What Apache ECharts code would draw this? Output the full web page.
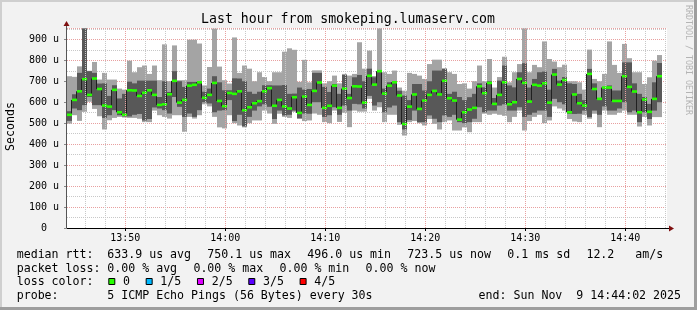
<!DOCTYPE html>
<html><head><meta charset="utf-8">
<script src="https://cdn.jsdelivr.net/npm/echarts@6/dist/echarts.min.js"></script>
<style>html,body{margin:0;padding:0;background:#f2f2f2}#c{width:697px;height:310px}</style>
</head><body><div id="c"></div>
<script>
// ---- time dimension ----
const startTime = '13:44:10';
const stepSeconds = 30;
const spanSeconds = 3600;
const majorTickLabels = ['13:50', '14:00', '14:10', '14:20', '14:30', '14:40'];
const yMax = 954;

// ---- 5 sorted pings per 30 s step (microseconds) ----
const pingMin = [498,538,511,554,602,568,533,470,514,525,530,527,525,525,521,505,505,560,538,530,
  522,538,538,459,530,522,538,590,580,530,480,475,538,500,489,480,500,513,513,560,
  546,497,545,530,525,554,520,510,513,546,540,505,500,560,506,550,481,560,555,555,
  616,560,576,505,540,540,492,441,505,510,500,489,520,497,470,505,513,465,465,480,
  457,505,505,545,540,545,540,535,505,530,560,465,510,530,540,500,513,580,570,560,
  520,508,505,540,521,545,481,560,540,540,550,560,540,540,484,530,489,529,529];
const pingLow = [511,570,562,586,625,586,586,525,538,562,538,532,532,540,544,513,520,575,570,562,
  546,625,578,530,546,530,562,600,594,552,560,562,610,510,540,485,530,560,580,590,
  578,520,560,537,540,560,524,546,545,600,600,530,538,576,540,584,560,592,590,570,
  630,584,600,552,575,584,505,470,515,560,505,505,537,521,505,537,530,540,505,500,
  505,521,576,552,560,560,584,590,560,560,576,530,540,550,560,560,530,616,600,590,
  545,544,545,560,529,560,540,580,560,560,570,600,552,560,505,552,520,560,600];
const pingMedian = [540,611,652,710,635,713,663,584,579,659,552,540,657,656,630,645,657,635,587,590,
  638,702,598,611,679,683,695,621,635,692,606,581,644,640,652,562,576,595,605,652,
  667,583,611,580,570,624,549,627,587,654,694,573,583,679,573,665,620,676,675,598,
  726,684,748,641,679,695,632,496,579,637,568,608,635,654,637,702,619,608,517,552,
  565,573,676,643,692,592,635,695,590,600,711,692,603,683,679,690,598,732,684,706,
  552,637,595,584,735,663,616,670,670,606,606,724,673,651,552,613,554,616,724];
const pingHigh = [557,638,740,951,748,740,689,690,630,681,618,640,698,690,703,703,703,703,625,700,
  649,748,700,673,697,697,700,650,665,724,695,657,657,714,713,700,650,640,650,681,
  681,680,680,682,640,641,670,660,663,740,740,673,649,687,640,730,640,719,730,700,
  760,719,752,665,695,700,655,632,610,687,687,656,700,751,751,759,640,650,625,610,
  624,640,690,671,700,620,703,775,680,671,743,786,670,711,743,746,660,759,703,720,
  690,687,640,610,759,690,620,672,680,656,656,790,790,690,640,625,592,695,787];
const pingMax = [724,721,771,954,750,792,708,740,708,708,665,660,798,743,767,775,735,775,705,876,
  700,871,705,705,898,898,880,680,768,951,770,705,689,909,740,775,760,700,743,720,
  700,743,743,841,857,850,697,802,695,752,752,690,700,727,690,735,727,735,886,760,
  846,725,952,743,735,751,670,655,740,735,727,711,782,803,803,762,743,735,687,690,
  665,700,775,700,806,670,720,817,695,743,782,952,743,778,767,890,806,794,767,779,
  700,700,695,660,851,711,700,735,890,778,740,878,810,743,743,687,719,798,825];

// ---- legend texts ----
const titleText = 'Last hour from smokeping.lumaserv.com';
const yAxisTitle = 'Seconds';
const sideText = 'RRDTOOL / TOBI OETIKER';
const rttLine = [['median rtt:', 16.7], ['633.9 us avg', 107.3], ['750.1 us max', 207.3], ['496.0 us min', 307.3], ['723.5 us now', 407.3], ['0.1 ms sd', 507.3], ['12.2   am/s', 586.4]];
const lossLine = [['packet loss:', 16.7], ['0.00 % avg', 107.3], ['0.00 % max', 193.4], ['0.00 % min', 279.5], ['0.00 % now', 365.6]];
const lossLabels = ['0', '1/5', '2/5', '3/5', '4/5'];
const lossColors = ['#26ff00', '#00b8ff', '#dd00ff', '#5a00ff', '#ff0000'];
const probeText = '5 ICMP Echo Pings (56 Bytes) every 30s';
const endText = 'end: Sun Nov  9 14:44:02 2025';

// ---- derived ----
function toSec(s) { const p = s.split(':').map(Number); return p[0] * 3600 + p[1] * 60 + (p[2] || 0); }
function fmt(v) { const h = Math.floor(v / 3600), m = Math.floor((v % 3600) / 60); return String(h).padStart(2, '0') + ':' + String(m).padStart(2, '0'); }
const t0 = toSec(startTime);
const tEnd = t0 + spanSeconds;
const majorTimes = majorTickLabels.map(toSec);
const minorTimes = [];
for (let t = Math.ceil(t0 / 120) * 120; t <= tEnd; t += 120) if (!majorTimes.includes(t)) minorTimes.push(t);
const stepStarts = pingMedian.map((_, i) => t0 + i * stepSeconds);
const smokeData = pingMedian.map((m, i) => [stepStarts[i], stepStarts[i] + stepSeconds, pingMin[i], pingLow[i], pingHigh[i], pingMax[i]]);
const medianData = pingMedian.map((m, i) => [stepStarts[i], stepStarts[i] + stepSeconds, m, i + 1 < pingMedian.length ? pingMedian[i + 1] : m]);

const MONO = "'DejaVu Sans Mono', monospace";
const GL = 67, GT = 28, GR = 667, GB = 228;
const CW = 6.97;

function renderSmoke(params, api) {
  const x0 = api.coord([api.value(0), 0])[0];
  const x1 = api.coord([api.value(1), 0])[0];
  const y = v => api.coord([api.value(0), v])[1];
  const a = y(api.value(2)), b = y(api.value(3)), c = y(api.value(4)), d = y(api.value(5));
  return { type: 'group', children: [
    { type: 'rect', shape: { x: x0, y: d, width: x1 - x0, height: a - d }, style: { fill: '#a4a4a4' } },
    { type: 'rect', shape: { x: x0, y: c, width: x1 - x0, height: b - c }, style: { fill: '#585858' } }
  ] };
}
function renderMedian(params, api) {
  const x0 = api.coord([api.value(0), 0])[0];
  const x1 = api.coord([api.value(1), 0])[0];
  const ym = api.coord([api.value(0), api.value(2)])[1];
  const yn = api.coord([api.value(0), api.value(3)])[1];
  const xl = Math.round(x1) - 0.5;
  return { type: 'group', children: [
    { type: 'line', shape: { x1: xl, y1: ym, x2: xl, y2: yn }, style: { stroke: '#202020', lineWidth: 1 } },
    { type: 'rect', shape: { x: x0, y: ym - 1.3, width: x1 - x0, height: 2.6 }, style: { fill: '#26ff00' } }
  ] };
}

const gfx = [];
function txt(x, y, s, opt) {
  gfx.push(Object.assign({ type: 'text', x: x, y: y, z: 100, silent: true,
    style: Object.assign({ text: s, fill: '#000', font: '11.6px ' + MONO, textAlign: 'left', textVerticalAlign: 'middle' }, opt || {}) }));
}
// frame
gfx.push({ type: 'rect', z: 100, silent: true, shape: { x: 0, y: 0, width: 697, height: 2 }, style: { fill: '#cfcfcf' } });
gfx.push({ type: 'rect', z: 100, silent: true, shape: { x: 0, y: 0, width: 2, height: 310 }, style: { fill: '#cfcfcf' } });
gfx.push({ type: 'rect', z: 100, silent: true, shape: { x: 0, y: 307, width: 697, height: 3 }, style: { fill: '#9e9e9e' } });
gfx.push({ type: 'rect', z: 100, silent: true, shape: { x: 694, y: 0, width: 3, height: 310 }, style: { fill: '#9e9e9e' } });
// axes lines + arrows
gfx.push({ type: 'line', z: 100, silent: true, shape: { x1: GL - 0.5, y1: GB, x2: GL - 0.5, y2: GT - 4 }, style: { stroke: '#555', lineWidth: 1 } });
gfx.push({ type: 'polygon', z: 101, silent: true, shape: { points: [[GL - 3.5, GT - 2], [GL + 2.5, GT - 2], [GL - 0.5, GT - 7]] }, style: { fill: '#7f1010' } });
gfx.push({ type: 'line', z: 100, silent: true, shape: { x1: GR, y1: GB + 0.5, x2: GR + 3, y2: GB + 0.5 }, style: { stroke: '#000', lineWidth: 1 } });
gfx.push({ type: 'polygon', z: 101, silent: true, shape: { points: [[GR + 2, GB - 2.5], [GR + 2, GB + 3.5], [GR + 7, GB + 0.5]] }, style: { fill: '#7f1010' } });
// title / side texts
txt(348, 19.5, titleText, { font: '13.2px ' + MONO, textAlign: 'center' });
gfx.push({ type: 'text', x: 11, y: 126.5, rotation: Math.PI / 2, z: 100, silent: true,
  style: { text: yAxisTitle, fill: '#000', font: '11.6px ' + MONO, textAlign: 'center', textVerticalAlign: 'middle' } });
gfx.push({ type: 'text', x: 688, y: 60, rotation: -Math.PI / 2, z: 100, silent: true,
  style: { text: sideText, fill: '#b4b4b4', font: '8.3px ' + MONO, textAlign: 'center', textVerticalAlign: 'middle' } });
// legend lines
rttLine.forEach(([s, x]) => txt(x, 255, s));
lossLine.forEach(([s, x]) => txt(x, 268.5, s));
txt(16.7, 282, 'loss color:');
let bx = 108.3;
lossLabels.forEach((lab, i) => {
  gfx.push({ type: 'rect', z: 100, silent: true, shape: { x: bx + 0.5, y: 278.5, width: 6, height: 6 }, style: { fill: lossColors[i], stroke: '#000', lineWidth: 1 } });
  txt(bx + 14.7, 282, lab);
  bx = bx + 14.7 + lab.length * CW + 15.7;
});
txt(16.7, 296, 'probe:');
txt(107.3, 296, probeText);
txt(681, 296, endText, { textAlign: 'right' });

const chart = echarts.init(document.getElementById('c'), null, { renderer: 'canvas', width: 697, height: 310 });
chart.setOption({
  animation: false,
  backgroundColor: '#f2f2f2',
  grid: { left: GL, top: GT, right: 697 - GR, bottom: 310 - GB, show: true, backgroundColor: '#ffffff', borderWidth: 0 },
  xAxis: [{
    type: 'value', min: t0, max: tEnd,
    axisLine: { show: true, lineStyle: { color: '#000', width: 1 } },
    axisTick: { show: true, length: 3, customValues: majorTimes, lineStyle: { color: '#000' } },
    axisLabel: { show: true, customValues: majorTimes, formatter: v => fmt(v), fontFamily: MONO, fontSize: 10, color: '#000', margin: 5 },
    splitLine: { show: false }
  }],
  yAxis: [{
    type: 'value', min: 0, max: yMax, interval: 50,
    axisLine: { show: false }, axisTick: { show: false }, axisLabel: { show: false },
    splitLine: { show: true, lineStyle: { color: '#c8c8c8', type: [1, 1], width: 1 } }
  }, {
    type: 'value', min: 0, max: yMax, interval: 100, position: 'left',
    axisLine: { show: false },
    axisTick: { show: true, length: 3, lineStyle: { color: '#888' } },
    axisLabel: { show: true, showMaxLabel: false, fontFamily: MONO, fontSize: 10, color: '#000', margin: 8,
      formatter: v => v === 0 ? '0  ' : v + ' u' },
    splitLine: { show: true, lineStyle: { color: '#e8a0a0', type: [1, 1], width: 1 } }
  }],
  series: [
    { type: 'line', data: [], silent: true, z: 1, xAxisIndex: 0, yAxisIndex: 0,
      markLine: { silent: true, symbol: ['none', 'none'], label: { show: false }, animation: false,
        data: minorTimes.map(t => ({ xAxis: t, lineStyle: { color: '#c8c8c8', type: [1, 1], width: 1 } }))
          .concat(majorTimes.map(t => ({ xAxis: t, lineStyle: { color: '#e8a0a0', type: [1, 1], width: 1 } }))) } },
    { type: 'custom', name: 'smoke', xAxisIndex: 0, yAxisIndex: 0, z: 2, silent: true,
      renderItem: renderSmoke, encode: { x: [0, 1], y: [2, 3, 4, 5] }, data: smokeData },
    { type: 'custom', name: 'median', xAxisIndex: 0, yAxisIndex: 0, z: 3, silent: true,
      renderItem: renderMedian, encode: { x: [0, 1], y: [2, 3] }, data: medianData }
  ],
  graphic: { elements: gfx }
});
</script></body></html>
